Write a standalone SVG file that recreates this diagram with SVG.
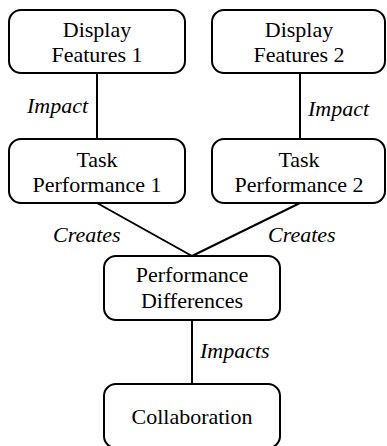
<svg xmlns="http://www.w3.org/2000/svg" width="387" height="446" viewBox="0 0 387 446">
  <style>
    .box { fill: #ffffff; stroke: #000000; stroke-width: 2; }
    .edge { stroke: #000000; stroke-width: 2; fill: none; }
    text { font-family: "Liberation Serif", "Times New Roman", Times, serif; font-size: 22px; fill: #000000; }
    .t { text-anchor: middle; }
    .lbl { font-style: italic; }
  </style>
  <rect width="387" height="446" fill="#ffffff"/>

  <!-- connectors and their labels -->
  <g id="connectors">
    <line class="edge" x1="97" y1="73" x2="97" y2="139"/>
    <line class="edge" x1="300" y1="73" x2="300" y2="139"/>
    <line class="edge" x1="97" y1="203" x2="192" y2="256"/>
    <line class="edge" x1="300" y1="203" x2="192" y2="256"/>
    <line class="edge" x1="192" y1="320" x2="192" y2="384"/>
    <text class="lbl" x="27" y="113">Impact</text>
    <text class="lbl" x="308" y="116">Impact</text>
    <text class="lbl" x="53" y="242">Creates</text>
    <text class="lbl" x="268" y="242">Creates</text>
    <text class="lbl" x="200" y="358">Impacts</text>
  </g>

  <g id="display1">
    <rect class="box" x="9" y="10" width="176" height="63" rx="12"/>
    <text class="t" x="97" y="37">Display</text>
    <text class="t" x="97" y="62">Features 1</text>
  </g>

  <g id="display2">
    <rect class="box" x="212" y="10" width="173" height="63" rx="12"/>
    <text class="t" x="299" y="37">Display</text>
    <text class="t" x="299" y="62">Features 2</text>
  </g>

  <g id="task1">
    <rect class="box" x="9" y="139" width="176" height="64" rx="12"/>
    <text class="t" x="97" y="166.5">Task</text>
    <text class="t" x="97" y="192">Performance 1</text>
  </g>

  <g id="task2">
    <rect class="box" x="212" y="139" width="173" height="64" rx="12"/>
    <text class="t" x="299" y="166.5">Task</text>
    <text class="t" x="299" y="192">Performance 2</text>
  </g>

  <g id="differences">
    <rect class="box" x="104" y="256" width="176" height="64" rx="12"/>
    <text class="t" x="192" y="282">Performance</text>
    <text class="t" x="192" y="308">Differences</text>
  </g>

  <g id="collaboration">
    <rect class="box" x="104" y="384" width="176" height="64" rx="12"/>
    <text class="t" x="192" y="424">Collaboration</text>
  </g>
</svg>
